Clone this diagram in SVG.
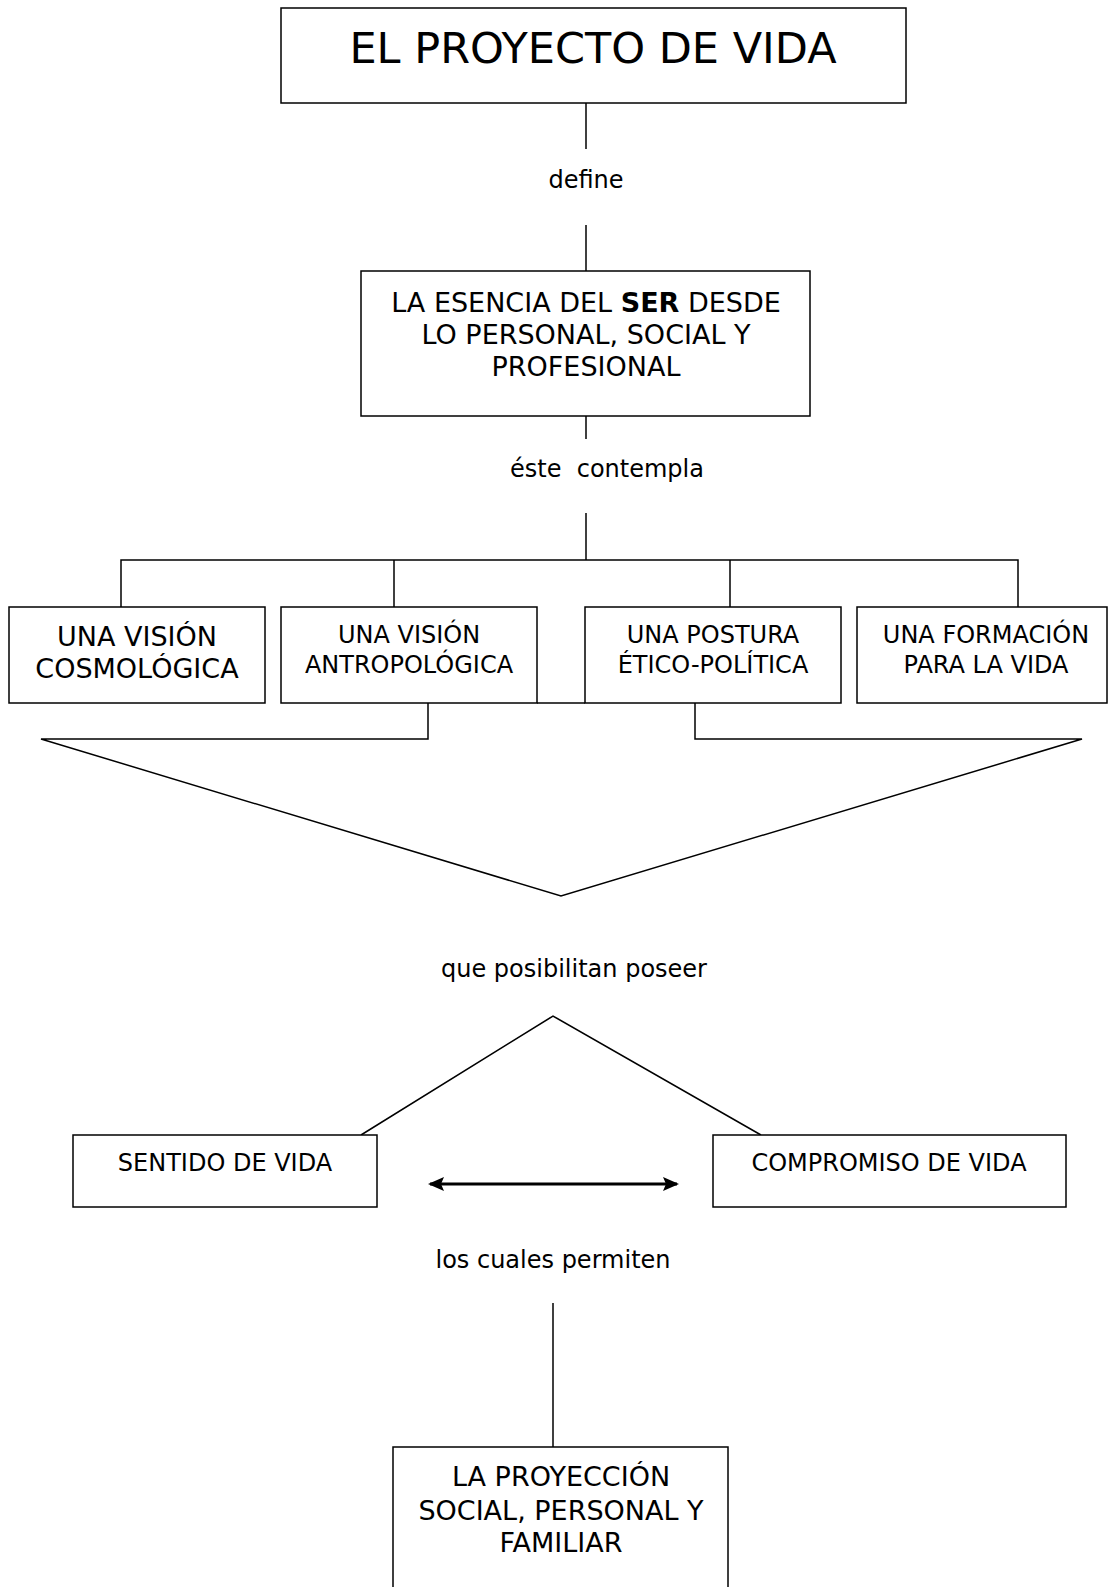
<svg xmlns="http://www.w3.org/2000/svg" width="1108" height="1587" viewBox="0 0 1108 1587">
<style>
.box{fill:#fff;stroke:#000;stroke-width:1.5}
.ln{fill:none;stroke:#000;stroke-width:1.5}
.arr{fill:none;stroke:#000;stroke-width:3}
text{font-family:"DejaVu Sans",Verdana,sans-serif;fill:#000;text-anchor:middle}
.t43{font-size:43px}
.t27{font-size:27px}
.t24{font-size:24px}
</style>
<defs>
<marker id="ah" viewBox="0 0 16 14" refX="14" refY="7" markerWidth="16" markerHeight="14" markerUnits="userSpaceOnUse" orient="auto-start-reverse">
<path d="M0,0 L16,7 L0,14 L3,7 z" fill="#000"/>
</marker>
</defs>
<rect width="1108" height="1587" fill="#fff"/>
<g id="connectors">
<line class="ln" x1="586" y1="103" x2="586" y2="149"/>
<line class="ln" x1="586" y1="225" x2="586" y2="271"/>
<line class="ln" x1="586" y1="416" x2="586" y2="439"/>
<line class="ln" x1="586" y1="513" x2="586" y2="560"/>
<polyline class="ln" points="121,607 121,560 1018,560 1018,607"/>
<line class="ln" x1="394" y1="560" x2="394" y2="607"/>
<line class="ln" x1="730" y1="560" x2="730" y2="607"/>
<line class="ln" x1="537" y1="703" x2="585" y2="703"/>
<polyline class="ln" points="428,703 428,739 41,739 561,896 1082,739 695,739 695,703"/>
<polyline class="ln" points="361,1135 553,1016 761,1135"/>
<line class="arr" x1="430" y1="1184" x2="677" y2="1184" marker-start="url(#ah)" marker-end="url(#ah)"/>
<line class="ln" x1="553" y1="1303" x2="553" y2="1447"/>
</g>
<g id="n-titulo">
<rect class="box" x="281" y="8" width="625" height="95"/>
<text class="t43" x="593" y="63">EL PROYECTO DE VIDA</text>
</g>
<g id="l-define"><text class="t24" x="586" y="188" font-size="25">define</text></g>
<g id="n-esencia">
<rect class="box" x="361" y="271" width="449" height="145"/>
<text class="t27" x="586" y="312">LA ESENCIA DEL <tspan font-weight="bold">SER</tspan> DESDE</text>
<text class="t27" x="586" y="344">LO PERSONAL, SOCIAL Y</text>
<text class="t27" x="586" y="376">PROFESIONAL</text>
</g>
<g id="l-contempla"><text class="t24" x="607" y="477" xml:space="preserve">éste  contempla</text></g>
<g id="n-cosmo">
<rect class="box" x="9" y="607" width="256" height="96"/>
<text class="t27" x="137" y="646">UNA VISIÓN</text>
<text class="t27" x="137" y="678">COSMOLÓGICA</text>
</g>
<g id="n-antropo">
<rect class="box" x="281" y="607" width="256" height="96"/>
<text class="t24" x="409" y="643">UNA VISIÓN</text>
<text class="t24" x="409" y="673">ANTROPOLÓGICA</text>
</g>
<g id="n-postura">
<rect class="box" x="585" y="607" width="256" height="96"/>
<text class="t24" x="713" y="643">UNA POSTURA</text>
<text class="t24" x="713" y="673">ÉTICO-POLÍTICA</text>
</g>
<g id="n-formacion">
<rect class="box" x="857" y="607" width="250" height="96"/>
<text class="t24" x="986" y="643">UNA FORMACIÓN</text>
<text class="t24" x="986" y="673">PARA LA VIDA</text>
</g>
<g id="l-posibilitan"><text class="t24" x="574" y="977">que posibilitan poseer</text></g>
<g id="n-sentido">
<rect class="box" x="73" y="1135" width="304" height="72"/>
<text class="t24" x="225" y="1171">SENTIDO DE VIDA</text>
</g>
<g id="n-compromiso">
<rect class="box" x="713" y="1135" width="353" height="72"/>
<text class="t24" x="889" y="1171">COMPROMISO DE VIDA</text>
</g>
<g id="l-permiten"><text class="t24" x="553" y="1268">los cuales permiten</text></g>
<g id="n-proyeccion">
<rect class="box" x="393" y="1447" width="335" height="160"/>
<text class="t27" x="561" y="1486">LA PROYECCIÓN</text>
<text class="t27" x="561" y="1520">SOCIAL, PERSONAL Y</text>
<text class="t27" x="561" y="1552">FAMILIAR</text>
</g>
</svg>
